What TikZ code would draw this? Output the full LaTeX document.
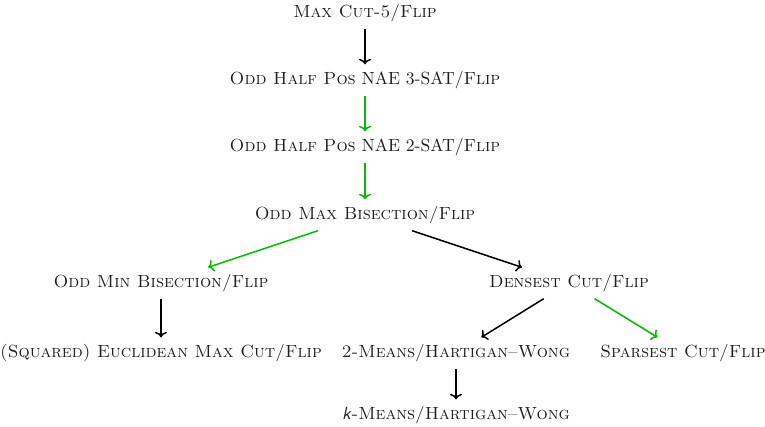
\documentclass[tikz,border=0pt]{standalone}
\usetikzlibrary{arrows.meta}
% labels are set at 10pt and enlarged, so every glyph keeps the 10pt design
\newcommand{\lbl}[1]{\scalebox{1.76}{\fontsize{10}{12}\selectfont #1}}
\begin{document}
\begin{tikzpicture}[x=1pt,y=-1pt,
  prob/.style={rectangle, inner xsep=4pt, inner ysep=7.4pt, text height=12.7pt, text depth=3.5pt,
    text=black!88},
  red/.style={-{Computer Modern Rightarrow[length=5.5pt, width=12pt]}, line width=1.5pt},
  bl/.style={red, black},
  gr/.style={red, green!75!black}]
\useasboundingbox (0,0) rectangle (765,427);
\node[prob] (maxcut) at (365,13) {\lbl{\textsc{Max Cut-\textsf{5}/Flip}}};
\node[prob] (sat3) at (365,80) {\lbl{\textsc{Odd Half Pos} NAE 3-SAT/\textsc{Flip}}};
\node[prob] (sat2) at (365,147) {\lbl{\textsc{Odd Half Pos} NAE 2-SAT/\textsc{Flip}}};
\node[prob] (maxbis) at (365,215) {\lbl{\textsc{Odd Max Bisection/Flip}}};
\node[prob] (minbis) at (161,283) {\lbl{\textsc{Odd Min Bisection/Flip}}};
\node[prob] (dense) at (569,283) {\lbl{\textsc{Densest Cut/Flip}}};
\node[prob] (eucl) at (161,353) {\lbl{\textsc{(Squared) Euclidean Max Cut/Flip}}};
\node[prob] (means2) at (456,353) {\lbl{\textsc{2-Means/Hartigan--Wong}}};
\node[prob] (sparse) at (683,353) {\lbl{\textsc{Sparsest Cut/Flip}}};
\node[prob] (kmeans) at (456,415) {\lbl{\textsf{\textit{k}}\textsc{-Means/Hartigan--Wong}}};
\draw[bl] (maxcut) -- (sat3);
\draw[gr] (sat3) -- (sat2);
\draw[gr] (sat2) -- (maxbis);
\draw[gr] (maxbis) -- (minbis);
\draw[bl] (maxbis) -- (dense);
\draw[bl] (minbis) -- (eucl);
\draw[bl] (dense) -- (means2);
\draw[gr] (dense) -- (sparse);
\draw[bl] (means2) -- (kmeans);
\end{tikzpicture}
\end{document}
